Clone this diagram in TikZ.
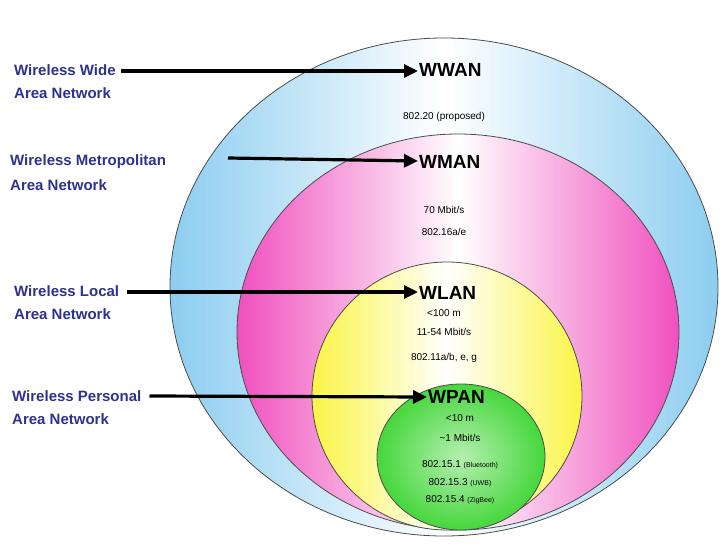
\documentclass[tikz,border=0pt]{standalone}
\usepackage{fontspec}
\setmainfont{Liberation Sans}
\usetikzlibrary{arrows.meta,positioning}
\definecolor{lblblue}{RGB}{45,50,140}
\definecolor{wwanc}{RGB}{140,205,240}
\definecolor{wmanc}{RGB}{240,80,190}
\definecolor{wlanc}{RGB}{250,245,70}
\definecolor{wpanc}{RGB}{70,215,60}

\begin{document}
\begin{tikzpicture}[x=1pt, y=-1pt, >={Triangle[length=14pt,width=13pt]},
    side/.style={lblblue, font=\bfseries\fontsize{15}{17}\selectfont, anchor=west, inner sep=0pt},
    title/.style={font=\bfseries\fontsize{19}{21}\selectfont, inner sep=1pt, anchor=west},
    info/.style={font=\fontsize{10}{11}\selectfont, inner sep=0pt},
    ring/.style={draw=black!70, line width=0.8pt},
    pointer/.style={->, line width=3.2pt}]
        \useasboundingbox (0,0) rectangle (728,546);
        % Rings
        \path[ring, left color=wwanc, right color=wwanc, middle color=white] (444,287) ellipse (274 and 249);
        \path[ring, left color=wmanc, right color=wmanc, middle color=white] (458,332) ellipse (221 and 198);
        \path[ring, left color=wlanc, right color=wlanc, middle color=white] (447,396) ellipse (135 and 134);
        \path[ring, inner color=wpanc!40, outer color=wpanc] (461,457) ellipse (84 and 73);

        % WWAN
        \node[title] (wwan) at (418,70) {WWAN};
        \node[info] (wwan1) at (444,117) {802.20 (proposed)};
        % WMAN
        \node[title] (wman) at (418,162) {WMAN};
        \node[info] (wman1) at (444,210) {70 Mbit/s};
        \node[info] (wman2) at (444,232) {802.16a/e};
        % WLAN
        \node[title] (wlan) at (418,293) {WLAN};
        \node[info] (wlan1) at (444,313) {<100 m};
        \node[info] (wlan2) at (444,332) {11-54 Mbit/s};
        \node[info] (wlan3) at (444,358) {802.11a/b, e, g};
        % WPAN
        \node[title] (wpan) at (427,397) {WPAN};
        \node[info] (wpan1) at (460,418) {<10 m};
        \node[info] (wpan2) at (460,438) {\textasciitilde1 Mbit/s};
        \node[info] (wpan3) at (460,465) {802.15.1 {\fontsize{7}{8}\selectfont(Bluetooth)}};
        \node[info] (wpan4) at (460,483) {802.15.3 {\fontsize{7}{8}\selectfont(UWB)}};
        \node[info] (wpan5) at (460,500) {802.15.4 {\fontsize{7}{8}\selectfont(ZigBee)}};

        % Labels
        \node[side] (wwanA) at (14,70) {Wireless Wide};
        \node[side] (wwanB) at (14,93) {Area Network};
        \node[side] (wmanA) at (10,162) {Wireless Metropolitan};
        \node[side] (wmanB) at (10,185) {Area Network};
        \node[side] (wlanA) at (14,291) {Wireless Local};
        \node[side] (wlanB) at (14,314) {Area Network};
        \node[side] (wpanA) at (12,396) {Wireless Personal};
        \node[side] (wpanB) at (12,419) {Area Network};

        % Arrows
        \coordinate (wmanS) at (228,158);
        \draw[pointer] (wwanA.east) ++(5,1) -- (wwan.west |- 0,71);
        \draw[pointer] (wmanS) -- (wman.west |- 0,161);
        \draw[pointer] (wlanA.east) ++(8,1) -- (wlan.west |- 0,292);
        \draw[pointer] (wpanA.east) ++(8,0) -- (wpan.west);
    \end{tikzpicture}
\end{document}
